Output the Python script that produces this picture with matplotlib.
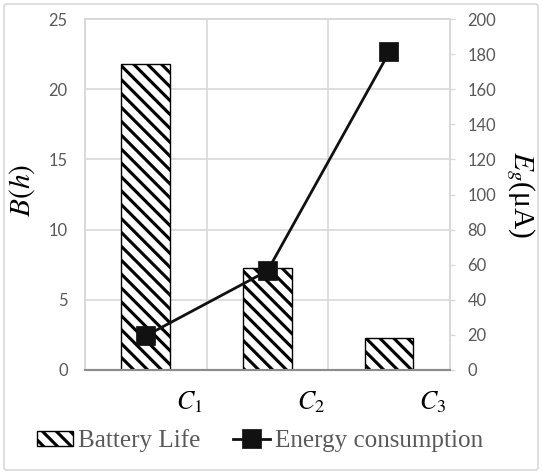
import matplotlib.pyplot as plt
import matplotlib.patches as mpatches
from matplotlib.lines import Line2D

# data
configs = ['$C_1$', '$C_2$', '$C_3$']
battery_life = [21.8, 7.3, 2.3]          # B (h), left axis
energy = [19.5, 56.5, 181.0]             # E_g (uA), right axis

plt.rcParams['hatch.linewidth'] = 1.8
plt.rcParams['hatch.color'] = 'black'
plt.rcParams['mathtext.fontset'] = 'stix'

DPI = 125
fig = plt.figure(figsize=(543 / DPI, 474 / DPI), dpi=DPI)
W, H = 543, 474
# axes box in pixels: left 85, right 450, top 19, bottom 370
ax = fig.add_axes([85 / W, 1 - 370 / H, 365 / W, 351 / H])
ax2 = ax.twinx()

HATCH = '\\\\\\'
x = range(len(configs))
ax.bar(x, battery_life, width=0.4, facecolor='white', edgecolor='black',
       linewidth=0.8, hatch=HATCH, zorder=2)
ax2.plot(x, energy, color='#111111', lw=1.6, marker='s', markersize=10,
         markerfacecolor='#111111', zorder=3)

grid_c = '#d9d9d9'
ax.set_xlim(-0.5, 2.5)
ax.set_ylim(0, 25)
ax.set_yticks(range(0, 26, 5))
ax2.set_ylim(0, 200)
ax2.set_yticks(range(0, 201, 20))

# category labels sit near the right of each slot
ax.set_xticks([i + 0.36 for i in x])
ax.set_xticklabels(configs, fontsize=15)
ax.tick_params(axis='x', length=0, pad=11)
ax.set_xticks([0.5, 1.5], minor=True)
ax.tick_params(axis='x', which='minor', length=0)
ax.grid(axis='y', color=grid_c, lw=1.0, zorder=0)
ax.grid(axis='x', which='minor', color=grid_c, lw=1.0, zorder=0)
ax.set_axisbelow(True)

tick_font = dict(family='Lato', size=9.5, color='#595959')
ax.tick_params(axis='y', length=0, pad=10)
for lab in ax.get_yticklabels():
    lab.set(**tick_font)
ax2.tick_params(axis='y', length=3, color=grid_c, pad=7)
for lab in ax2.get_yticklabels():
    lab.set(**tick_font)

for a in (ax, ax2):
    for s in ('left', 'right', 'top'):
        a.spines[s].set_color(grid_c)
        a.spines[s].set_linewidth(1.0)
    a.spines['bottom'].set_color('#8c8c8c')
    a.spines['bottom'].set_linewidth(1.2)

fig.text(22 / W, 1 - 190 / H, '$B(h)$', rotation=90, fontsize=17,
         ha='center', va='center')
fig.text(520 / W, 1 - 195 / H, '$E_g$(μA)', rotation=270, fontsize=17,
         family='Liberation Serif', ha='center', va='center')

handles = [mpatches.Patch(facecolor='white', edgecolor='black', hatch=HATCH,
                          linewidth=0.8),
           Line2D([], [], color='#111111', lw=1.6, marker='s', markersize=10)]
fig.legend(handles, ['Battery Life', 'Energy consumption'],
           loc='center left', bbox_to_anchor=(14 / W, 1 - 441 / H),
           ncol=2, frameon=False, handlelength=1.45, handleheight=0.55,
           handletextpad=0.2, columnspacing=1.3,
           prop={'family': 'Liberation Serif', 'size': 14.5},
           labelcolor='#595959')

# light frame around the whole picture
fig.patches.append(mpatches.FancyBboxPatch(
    (4 / W, 4 / H), 534 / W, 466 / H, boxstyle='round,pad=0,rounding_size=0.005',
    transform=fig.transFigure, fill=False, edgecolor='#d9d9d9', lw=1.0))

fig.savefig('out.png', dpi=DPI)
